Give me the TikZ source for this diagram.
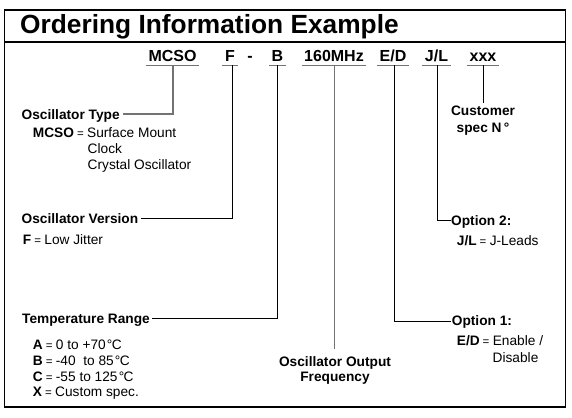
\documentclass[tikz,border=0pt]{standalone}
\usepackage{fontspec}
\setmainfont{Liberation Sans}
\usetikzlibrary{calc}
\newcommand{\eqs}{{\fontsize{11.5}{12}\selectfont\kern3pt=\kern3.4pt}}
\newcommand{\degc}{\kern1.2pt°\kern-0.6pt C}
\begin{document}
\begin{tikzpicture}[x=1pt,y=-1pt,
  titlestyle/.style={font=\fontsize{26.3}{30}\selectfont\bfseries, anchor=base west, inner sep=0pt},
  code/.style={font=\fontsize{16}{19}\selectfont\bfseries, anchor=base, inner xsep=2.5pt, inner ysep=0pt},
  lbl/.style={font=\fontsize{13.7}{16}\selectfont\bfseries, anchor=base west, inner sep=0pt},
  clbl/.style={lbl, anchor=base},
  desc/.style={font=\fontsize{13.7}{16}\selectfont, anchor=base west, inner sep=0pt},
  uline/.style={draw=black!55, line width=1.1pt},
  conn/.style={draw=black, line width=0.8pt},
  gconn/.style={draw=black!55, line width=1.1pt},
  framestyle/.style={draw=black, line width=1.6pt}]
\useasboundingbox (0,0) rectangle (572,417);
% frame
\draw[framestyle] (4.5,10) rectangle (565.5,407);
\draw[framestyle] (4.5,42) -- (565.5,42);
\node[titlestyle] (title) at (20,33.5) {Ordering Information Example};
% code row
\node[code] (mcso) at (172.5,62) {MCSO};
\node[code] (f) at (230,62) {F};
\node[code] (dash) at (250,62) {-};
\node[code] (b) at (277.5,62) {B};
\node[code] (mhz) at (334,62) {160MHz};
\node[code] (ed) at (393,62) {E/D};
\node[code] (jl) at (436.5,62) {J/L};
\node[code] (xxx) at (483,62) {xxx};
\foreach \n in {mcso,f,b,mhz,ed,jl,xxx}
  \draw[uline] ([yshift=-3.5pt]\n.base west) -- ([yshift=-3.5pt]\n.base east);
% labels
\node[lbl] (otype) at (21.5,119) {Oscillator Type};
\node[desc] (otype1) at (32.7,137) {\textbf{MCSO}\eqs Surface Mount};
\node[desc] (otype2) at (87.5,153) {Clock};
\node[desc] (otype3) at (87.5,169) {Crystal Oscillator};
\node[lbl] (over) at (21.5,223) {Oscillator Version};
\node[desc] (over1) at (22.7,244) {\textbf{F}\eqs Low Jitter};
\node[lbl] (temp) at (22,323) {Temperature Range};
\node[desc] (tempa) at (32.7,349.3) {\textbf{A}\eqs 0 to +70\degc};
\node[desc] (tempb) at (32.7,365) {\textbf{B}\eqs -40\ \ to 85\degc};
\node[desc] (tempc) at (32.7,381) {\textbf{C}\eqs -55 to 125\degc};
\node[desc] (tempx) at (32.7,396.7) {\textbf{X}\eqs Custom spec.};
\node[clbl] (freq1) at (335,366) {Oscillator Output};
\node[clbl] (freq2) at (335,381.5) {Frequency};
\node[lbl] (opt1) at (451.7,325.5) {Option 1:};
\node[desc] (opt1a) at (456.7,345.7) {\textbf{E/D}\eqs Enable /};
\node[desc] (opt1b) at (492.5,362.7) {Disable};
\node[lbl] (opt2) at (451,225) {Option 2:};
\node[desc] (opt2a) at (456.7,245) {\textbf{J/L}\eqs J-Leads};
\node[clbl] (cust1) at (483,116) {Customer};
\node[clbl] (cust2) at (483,132) {spec N\,°};
% connectors
\draw[gconn] ([xshift=0.5pt,yshift=-3.5pt]mcso.base) |- ([xshift=3pt,yshift=5pt]otype.base east);
\draw[conn] ([xshift=2pt,yshift=-3.5pt]f.base) |- ([xshift=3pt,yshift=4.5pt]over.base east);
\draw[conn] ([xshift=-0.5pt,yshift=-3.5pt]b.base) |- ([xshift=2pt,yshift=4.5pt]temp.base east);
\draw[gconn] ([xshift=0.5pt,yshift=-3.5pt]mhz.base) -- ($(mhz.base |- freq1.north)+(0.5,-7)$);
\draw[conn] ([xshift=1pt,yshift=-3.5pt]ed.base) |- ([xshift=-1pt,yshift=4.5pt]opt1.base west);
\draw[conn] ([xshift=0.5pt,yshift=-3.5pt]jl.base) |- ([xshift=-0.5pt,yshift=4.5pt]opt2.base west);
\draw[conn] ([yshift=-3.5pt]xxx.base) -- ($(xxx.base |- cust1.north)+(0,-3)$);
\end{tikzpicture}
\end{document}
